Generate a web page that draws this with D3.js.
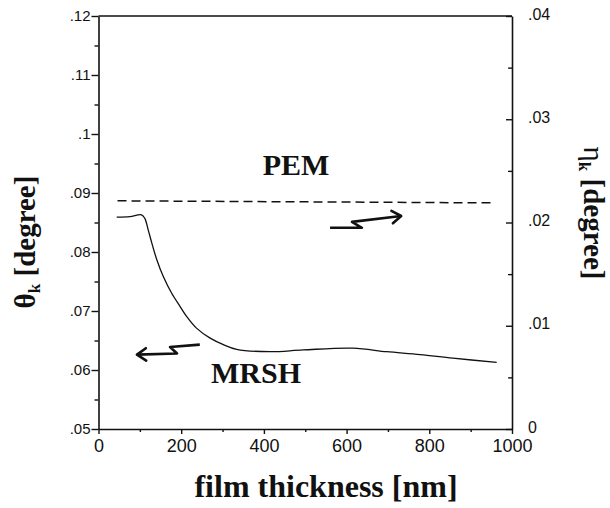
<!DOCTYPE html>
<html>
<head>
<meta charset="utf-8">
<script src="https://cdn.jsdelivr.net/npm/d3@7"></script>
<style>
  body { margin: 0; background: #fff; }
  .tick text { font-family: "Liberation Sans", Arial, sans-serif; fill: #111; }
  .title { font-family: "Liberation Serif", "Times New Roman", serif; font-weight: bold; fill: #111; }
</style>
</head>
<body>
<div id="chart"></div>
<script>
// Data
// MRSH curve, theta_k vs film thickness (left axis)
var mrshThickness = [44, 76, 104, 112, 120, 129, 141, 157, 177, 197, 213, 237, 270, 302, 334, 415, 495, 615, 697, 778, 857, 963];
var mrshTheta = [0.0859, 0.0860, 0.0863, 0.0857, 0.0838, 0.0815, 0.0787, 0.0758, 0.0730, 0.0708, 0.0691, 0.0671, 0.0654, 0.0643, 0.0635, 0.0631, 0.0634, 0.0637, 0.0631, 0.0626, 0.0620, 0.0613];

// PEM line, eta_k vs film thickness (right axis)
var pemThickness = [46, 500, 960];
var pemEta = [0.0221, 0.0220, 0.0219];

// Tick values
var xTicks = [0, 200, 400, 600, 800, 1000];
var leftTicks = [0.05, 0.06, 0.07, 0.08, 0.09, 0.1, 0.11, 0.12];
var rightTicks = [0, 0.01, 0.02, 0.03, 0.04];

// Annotation arrows (thickness, theta_k), arrow head at the last point
var pemArrowX = [560, 637, 613, 732];
var pemArrowY = [0.0841, 0.0841, 0.0851, 0.0861];
var mrshArrowX = [245, 173, 190, 93];
var mrshArrowY = [0.0643, 0.0639, 0.0628, 0.0626];

// SVG area
var svgWidth = 610;
var svgHeight = 508;

var margin = { top: 16, right: 98, bottom: 79, left: 98.5 };
var width = svgWidth - margin.left - margin.right;
var height = svgHeight - margin.top - margin.bottom;

var svg = d3.select("#chart")
  .append("svg")
  .attr("width", svgWidth)
  .attr("height", svgHeight);

var chartGroup = svg.append("g")
  .attr("transform", `translate(${margin.left}, ${margin.top})`);

// Scales
var xScale = d3.scaleLinear().domain([0, 1000]).range([0, width]);
var yLeft = d3.scaleLinear().domain([0.05, 0.12]).range([height, 0]);
var yRight = d3.scaleLinear().domain([0, 0.04]).range([height, 0]);

// strip leading zero: .05, .1 ...
var fmt = function(d) {
  if (d === 0) return "0";
  return String(+d.toFixed(3)).replace(/^0/, "");
};

// minor ticks first
chartGroup.append("g")
  .attr("transform", `translate(0, ${height})`)
  .call(d3.axisBottom(xScale).tickValues(d3.range(100, 1000, 200)).tickSize(3).tickFormat(""))
  .call(g => g.select(".domain").remove());

chartGroup.append("g")
  .call(d3.axisLeft(yLeft).tickValues(d3.range(0.055, 0.12, 0.01)).tickSize(4).tickFormat(""))
  .call(g => g.select(".domain").remove());

chartGroup.append("g")
  .attr("transform", `translate(${width}, 0)`)
  .call(d3.axisLeft(yRight).tickValues(d3.range(0.005, 0.04, 0.01)).tickSize(4).tickFormat(""))
  .call(g => g.select(".domain").remove());

// Major axes
var bottomAxis = chartGroup.append("g")
  .attr("transform", `translate(0, ${height})`)
  .call(d3.axisBottom(xScale).tickValues(xTicks).tickFormat(d3.format("d")).tickSize(5).tickPadding(5).tickSizeOuter(0));
bottomAxis.selectAll("text").style("font-size", "18px");

var leftAxis = chartGroup.append("g")
  .call(d3.axisLeft(yLeft).tickValues(leftTicks).tickFormat(fmt).tickSize(7).tickPadding(1).tickSizeOuter(0));
leftAxis.selectAll("text").style("font-size", "15px");

var rightAxis = chartGroup.append("g")
  .attr("transform", `translate(${width}, 0)`)
  .call(d3.axisRight(yRight).tickValues(rightTicks).tickFormat(fmt).tickSize(-6).tickPadding(16).tickSizeOuter(0));
rightAxis.selectAll("text").style("font-size", "16px").attr("dy", "0.2em");

chartGroup.selectAll(".domain").attr("stroke-width", 1.6).attr("stroke", "#111");
chartGroup.selectAll(".tick line").attr("stroke-width", 1.4).attr("stroke", "#111");

// top frame line
chartGroup.append("line")
  .attr("x1", 0).attr("x2", width)
  .attr("y1", 0).attr("y2", 0)
  .attr("stroke", "#111")
  .attr("stroke-width", 1.6);

// PEM dashed line
var pemLine = d3.line()
  .x((d, i) => xScale(pemThickness[i]))
  .y(d => yRight(d));

chartGroup.append("path")
  .datum(pemEta)
  .attr("d", pemLine)
  .attr("fill", "none")
  .attr("stroke", "#111")
  .attr("stroke-width", 1.5)
  .attr("stroke-dasharray", "9,5");

// MRSH solid curve
var mrshLine = d3.line()
  .x((d, i) => xScale(mrshThickness[i]))
  .y(d => yLeft(d))
  .curve(d3.curveCatmullRom);

chartGroup.append("path")
  .datum(mrshTheta)
  .attr("d", mrshLine)
  .attr("fill", "none")
  .attr("stroke", "#111")
  .attr("stroke-width", 1.3);

// lightning arrows
function drawArrow(xs, ys) {
  var pts = xs.map((x, i) => [xScale(x), yLeft(ys[i])]);
  chartGroup.append("path")
    .attr("d", d3.line()(pts))
    .attr("fill", "none")
    .attr("stroke", "#111")
    .attr("stroke-width", 2.6)
    .attr("stroke-linejoin", "round");
  var tip = pts[pts.length - 1];
  var prev = pts[pts.length - 2];
  var ang = Math.atan2(tip[1] - prev[1], tip[0] - prev[0]);
  var len = 11;
  var head = [
    [tip[0] - len * Math.cos(ang - 0.6), tip[1] - len * Math.sin(ang - 0.6)],
    tip,
    [tip[0] - len * Math.cos(ang + 0.6), tip[1] - len * Math.sin(ang + 0.6)]
  ];
  chartGroup.append("path")
    .attr("d", d3.line()(head))
    .attr("fill", "none")
    .attr("stroke", "#111")
    .attr("stroke-width", 2.6)
    .attr("stroke-linejoin", "round")
    .attr("stroke-linecap", "round");
}
drawArrow(pemArrowX, pemArrowY);
drawArrow(mrshArrowX, mrshArrowY);

// Curve labels
svg.append("text")
  .attr("class", "title")
  .attr("x", 296)
  .attr("y", 175)
  .attr("text-anchor", "middle")
  .style("font-size", "30px")
  .text("PEM");

svg.append("text")
  .attr("class", "title")
  .attr("x", 256)
  .attr("y", 383)
  .attr("text-anchor", "middle")
  .style("font-size", "30px")
  .text("MRSH");

// Axis titles
svg.append("text")
  .attr("class", "title")
  .attr("x", 326)
  .attr("y", 497)
  .attr("text-anchor", "middle")
  .style("font-size", "32px")
  .text("film thickness [nm]");

var leftTitle = svg.append("text")
  .attr("class", "title")
  .attr("transform", "translate(35, 242) rotate(-90)")
  .attr("text-anchor", "middle")
  .style("font-size", "29px");
leftTitle.append("tspan").text("θ");
leftTitle.append("tspan").attr("dy", 5).style("font-size", "17px").text("k");
leftTitle.append("tspan").attr("dy", -5).text(" [degree]");

var rightTitle = svg.append("text")
  .attr("class", "title")
  .attr("transform", "translate(584, 213) rotate(90)")
  .attr("text-anchor", "middle")
  .style("font-size", "29px");
rightTitle.append("tspan").style("font-weight", "normal").text("η");
rightTitle.append("tspan").attr("dy", 5).style("font-size", "17px").text("k");
rightTitle.append("tspan").attr("dy", -5).text(" [degree]");
</script>
</body>
</html>
